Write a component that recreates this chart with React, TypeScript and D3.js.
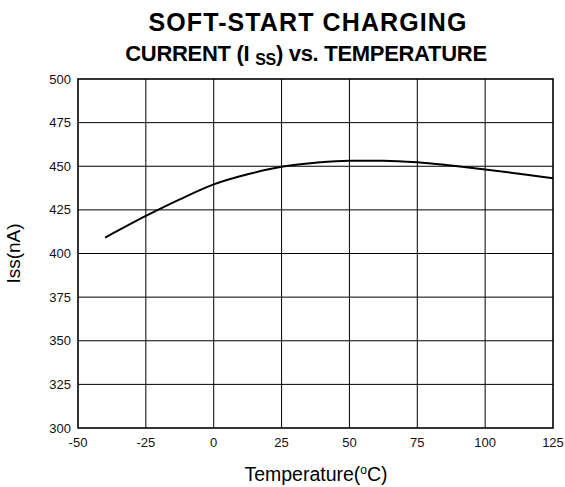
import React, { useEffect, useRef } from 'react';
import * as d3 from 'd3';

// Iss vs temperature
const temps = [-40, -25, -12.5, 0, 12.5, 25, 37.5, 50, 62.5, 75, 87.5, 100, 112.5, 125];
const issValues = [409.1, 421.5, 431, 439.6, 445.4, 449.7, 452, 453.2, 453.2, 452.3, 450.4, 448.2, 445.7, 443.1];

const xTicks = [-50, -25, 0, 25, 50, 75, 100, 125];
const yTicks = [300, 325, 350, 375, 400, 425, 450, 475, 500];

const width = 565;
const height = 487;
const font = 'Arial, "Liberation Sans", Helvetica, sans-serif';

const App: React.FC = () => {
    const svgRef = useRef<SVGSVGElement>(null);

    useEffect(() => {
        const svg = d3.select(svgRef.current);
        svg.selectAll('*').remove();

        const margin = { top: 79, right: 12, bottom: 59, left: 78 };
        const innerWidth = width - margin.left - margin.right;
        const innerHeight = height - margin.top - margin.bottom;

        const x = d3.scaleLinear().domain([-50, 125]).range([0, innerWidth]);
        const y = d3.scaleLinear().domain([300, 500]).range([innerHeight, 0]);

        svg.append('rect').attr('width', width).attr('height', height).attr('fill', '#fff');

        // Title
        svg.append('text')
            .attr('x', 308)
            .attr('y', 31)
            .attr('text-anchor', 'middle')
            .style('font-family', font)
            .style('font-weight', 'bold')
            .style('font-size', '25px')
            .style('letter-spacing', '1.1px')
            .text('SOFT-START CHARGING');

        const line2 = svg.append('text')
            .attr('x', 306)
            .attr('y', 61)
            .attr('text-anchor', 'middle')
            .style('font-family', font)
            .style('font-weight', 'bold')
            .style('font-size', '22px')
            .style('letter-spacing', '-0.3px');
        line2.append('tspan').text('CURRENT (I ');
        line2.append('tspan').attr('dy', 4).style('font-size', '16px').text('SS');
        line2.append('tspan').attr('dy', -4).text(') vs. TEMPERATURE');

        const g = svg.append('g')
            .attr('transform', `translate(${margin.left},${margin.top})`);

        // Grid
        g.append('g')
            .selectAll('line')
            .data(xTicks.slice(1, -1))
            .enter()
            .append('line')
            .attr('x1', d => x(d)).attr('x2', d => x(d))
            .attr('y1', 0).attr('y2', innerHeight)
            .attr('stroke', '#000')
            .attr('stroke-width', 1);

        g.append('g')
            .selectAll('line')
            .data(yTicks.slice(1, -1))
            .enter()
            .append('line')
            .attr('x1', 0).attr('x2', innerWidth)
            .attr('y1', d => y(d)).attr('y2', d => y(d))
            .attr('stroke', '#000')
            .attr('stroke-width', 1);

        // Frame
        g.append('rect')
            .attr('width', innerWidth)
            .attr('height', innerHeight)
            .attr('fill', 'none')
            .attr('stroke', '#000')
            .attr('stroke-width', 1.6);

        // Tick labels
        g.append('g')
            .selectAll('text')
            .data(yTicks)
            .enter()
            .append('text')
            .attr('x', -7)
            .attr('y', d => y(d))
            .attr('dy', '0.35em')
            .attr('text-anchor', 'end')
            .style('font-family', font)
            .style('font-size', '13px')
            .style('fill', '#111')
            .text(d => d);

        g.append('g')
            .selectAll('text')
            .data(xTicks)
            .enter()
            .append('text')
            .attr('x', d => x(d))
            .attr('y', innerHeight + 19)
            .attr('text-anchor', 'middle')
            .style('font-family', font)
            .style('font-size', '13px')
            .style('fill', '#111')
            .text(d => d);

        // Curve
        const line = d3.line<number>()
            .x((_, i) => x(temps[i]))
            .y(d => y(d))
            .curve(d3.curveMonotoneX);

        g.append('path')
            .datum(issValues)
            .attr('d', line)
            .attr('fill', 'none')
            .attr('stroke', '#000')
            .attr('stroke-width', 2);

        // Axis titles
        const xt = svg.append('text')
            .attr('x', 316)
            .attr('y', 481)
            .attr('text-anchor', 'middle')
            .style('font-family', font)
            .style('font-size', '19.5px')
            .style('fill', '#000');
        xt.append('tspan').text('Temperature(');
        xt.append('tspan').attr('dy', -7).style('font-size', '12px').text('o');
        xt.append('tspan').attr('dy', 7).text('C)');

        svg.append('text')
            .attr('transform', `translate(20,${margin.top + innerHeight / 2}) rotate(-90)`)
            .attr('text-anchor', 'middle')
            .style('font-family', font)
            .style('font-size', '19px')
            .style('fill', '#000')
            .text('Iss(nA)');
    }, []);

    return (
        <svg
            ref={svgRef}
            width={width}
            height={height}
            style={{ position: 'absolute', left: 0, top: 0 }}
        />
    );
};

export default App;
